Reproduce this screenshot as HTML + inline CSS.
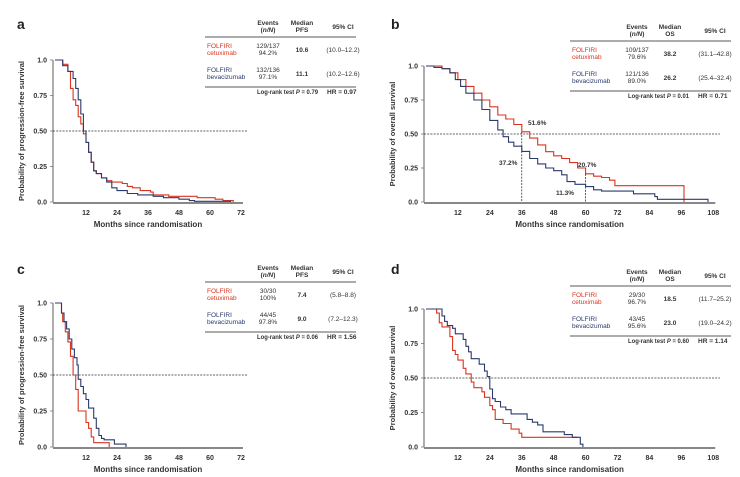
<!DOCTYPE html>
<html><head><meta charset="utf-8"><style>
body{margin:0;background:#fff;}
svg{display:block;font-family:"Liberation Sans",Arial,sans-serif;}
.t{font-size:6.5px;fill:#333;}
.b{font-weight:bold;}
.tk{font-size:7px;font-weight:bold;fill:#333;}
.xl{font-size:8px;font-weight:bold;fill:#333;}
.pl{font-size:14px;font-weight:bold;fill:#222;}
</style></head><body>
<svg id="s" width="740" height="477" viewBox="0 0 740 477" xmlns="http://www.w3.org/2000/svg"></svg>
<script>
const S=document.getElementById('s');let h='';
const R='#d9341f',B='#2b3a6b';
function panel(P){
 const {ox,sx,y0,y1,max,step,yl,letter,ly}=P;
 const X=m=>ox+m*sx, Y=v=>y0-(y1-y0)*-v;
 h+=`<text class="pl" x="${P.lx}" y="${ly}">${letter}</text>`;
 h+=`<line x1="${ox-2}" y1="${y1}" x2="${ox-2}" y2="${y0}" stroke="#777" stroke-width="1.2"/>`;
 h+=`<line x1="${ox-2}" y1="${y0+1}" x2="${X(max)+2}" y2="${y0+1}" stroke="#888" stroke-width="2"/>`;
 h+=`<line x1="${ox-2}" y1="${Y(.5)}" x2="${P.dashEnd}" y2="${Y(.5)}" stroke="#333" stroke-width="0.8" stroke-dasharray="2,1.2"/>`;
 [[1,'1.0'],[.75,'0.75'],[.5,'0.50'],[.25,'0.25'],[0,'0.0']].forEach(([v,t])=>{
  h+=`<text class="tk" x="${ox-8}" y="${Y(v)+2.5}" text-anchor="end">${t}</text>`;
  h+=`<line x1="${ox-5}" y1="${Y(v)}" x2="${ox-2}" y2="${Y(v)}" stroke="#777" stroke-width="0.8"/>`;});
 for(let m=step;m<=max;m+=step){h+=`<text class="tk" x="${X(m)}" y="${y0+13}" text-anchor="middle">${m}</text>`;}
 h+=`<text class="xl" x="${X(max/2)}" y="${y0+25}" text-anchor="middle">Months since randomisation</text>`;
 h+=`<text class="xl" transform="translate(${ox-31},${(y0+y1)/2}) rotate(-90)" text-anchor="middle" style="font-size:7.5px">${yl}</text>`;
 [[P.red,R],[P.blue,B]].forEach(([d,c])=>{
  let p=`M${X(d[0][0])},${Y(d[0][1])}`;
  for(let i=1;i<d.length;i++){p+=`H${X(d[i][0]).toFixed(1)}V${Y(d[i][1]).toFixed(1)}`;}
  h+=`<path d="${p}" fill="none" stroke="${c}" stroke-width="1.1"/>`;});
}
function table(T){
 const {x,y,w,type,rows,lr,hr}=T;
 const cE=x+T.cE,cM=x+T.cM,cC=x+T.cC;
 h+=`<text class="t b" x="${cE}" y="${y}" text-anchor="middle">Events</text><text class="t b" x="${cE}" y="${y+7}" text-anchor="middle">(<tspan font-style="italic">n/N</tspan>)</text>`;
 h+=`<text class="t b" x="${cM}" y="${y}" text-anchor="middle">Median</text><text class="t b" x="${cM}" y="${y+7}" text-anchor="middle">${type}</text>`;
 h+=`<text class="t b" x="${cC}" y="${y+4}" text-anchor="middle">95% CI</text>`;
 h+=`<line x1="${x}" y1="${y+12}" x2="${x+w}" y2="${y+12}" stroke="#222" stroke-width="0.8"/>`;
 rows.forEach((r,i)=>{const yy=y+23+i*24;const c=i==0?R:B;
  h+=`<text class="t" x="${x+2}" y="${yy}" style="fill:${c}">FOLFIRI</text><text class="t" x="${x+2}" y="${yy+7}" style="fill:${c}">${i==0?'cetuximab':'bevacizumab'}</text>`;
  h+=`<text class="t" x="${cE}" y="${yy}" text-anchor="middle">${r[0]}</text><text class="t" x="${cE}" y="${yy+7}" text-anchor="middle">${r[1]}</text>`;
  h+=`<text class="t b" x="${cM}" y="${yy+4}" text-anchor="middle">${r[2]}</text><text class="t" x="${cC}" y="${yy+4}" text-anchor="middle">${r[3]}</text>`;});
 h+=`<line x1="${x}" y1="${y+62}" x2="${x+w}" y2="${y+62}" stroke="#222" stroke-width="0.8"/>`;
 h+=`<text class="t b" x="${x+T.lx}" y="${y+69}" textLength="61" lengthAdjust="spacingAndGlyphs">Log-rank test <tspan font-style="italic">P</tspan> = ${lr}</text><text class="t b" x="${x+T.hx}" y="${y+69}">HR = ${hr}</text>`;
}
panel({ox:55,sx:2.583,y0:202,y1:60,max:72,step:12,letter:'a',lx:17,ly:29,dashEnd:247,yl:'Probability of progression-free survival',
 red:[[0,1],[2,1],[3,.97],[5,.92],[6,.8],[7,.72],[8,.68],[9,.6],[10,.55],[11,.48],[12,.42],[13,.35],[14,.28],[15,.22],[16,.2],[18,.17],[20,.15],[22,.14],[26,.13],[28,.11],[30,.1],[33,.08],[37,.07],[38,.05],[44,.04],[54,.04],[55,.03],[62,.02],[65,.01],[69,0]],
 blue:[[0,1],[3,.96],[5,.92],[7,.87],[8,.8],[9,.72],[10,.62],[11,.5],[12,.42],[13,.35],[14,.28],[15,.22],[16,.2],[18,.17],[20,.14],[22,.1],[24,.08],[28,.06],[32,.05],[38,.04],[42,.03],[48,.02],[52,.01],[54,.005],[68,0]]});
panel({ox:426,sx:2.66,y0:202,y1:66,max:108,step:12,letter:'b',lx:391,ly:29,dashEnd:720,yl:'Probability of overall survival',
 red:[[0,1],[3,1],[6,.98],[9,.95],[12,.9],[15,.85],[18,.8],[21,.75],[24,.7],[27,.64],[30,.61],[33,.57],[36,.516],[39,.47],[42,.42],[45,.37],[48,.34],[51,.32],[54,.29],[57,.25],[60,.207],[63,.19],[66,.18],[69,.16],[71,.12],[97,0]],
 blue:[[0,1],[3,.99],[6,.98],[9,.95],[11,.9],[13,.85],[15,.8],[18,.75],[21,.68],[24,.6],[27,.53],[29,.48],[31,.44],[33,.41],[36,.372],[39,.32],[42,.28],[45,.25],[48,.23],[51,.2],[53,.15],[56,.13],[60,.113],[63,.09],[66,.08],[75,.08],[78,.06],[86,.04],[87,.02],[106,.02],[106,0]]});
panel({ox:55,sx:2.583,y0:447,y1:303,max:72,step:12,letter:'c',lx:17,ly:274,dashEnd:247,yl:'Probability of progression-free survival',
 red:[[0,1],[2,1],[2.5,.93],[3,.87],[4,.8],[5,.73],[6,.63],[7,.5],[8,.4],[9,.25],[11,.25],[12,.17],[13,.13],[14,.07],[15,.03],[21,0]],
 blue:[[0,1],[2.5,.93],[3.5,.87],[4.5,.82],[5.5,.75],[6.5,.68],[7.5,.62],[8.5,.57],[9,.47],[10,.42],[11,.37],[12,.33],[13,.27],[15,.2],[16,.13],[17,.08],[18,.06],[19,.05],[23,.02],[27.5,0]]});
panel({ox:426,sx:2.66,y0:447,y1:309,max:108,step:12,letter:'d',lx:391,ly:274,dashEnd:720,yl:'Probability of overall survival',
 red:[[0,1],[4,.97],[5,.9],[6,.87],[9,.8],[10,.7],[11,.67],[12,.63],[14,.57],[15,.53],[17,.47],[18,.43],[20,.43],[21,.4],[22,.36],[24,.3],[25,.27],[26,.2],[29,.17],[32,.13],[35,.1],[36,.07],[57,.07]],
 blue:[[0,1],[5,1],[6,.95],[7,.91],[8,.88],[10,.86],[11,.82],[14,.78],[15,.73],[16,.69],[17,.64],[20,.6],[22,.55],[23,.51],[24,.42],[25,.35],[26,.33],[28,.29],[30,.27],[32,.24],[38,.2],[40,.18],[42,.16],[44,.11],[52,.09],[55,.07],[58,.02],[59,0]]});
const bx=m=>426+m*2.66, by=v=>202-136*v;
h+=`<line x1="${bx(36)}" y1="${by(.516)}" x2="${bx(36)}" y2="202" stroke="#333" stroke-width="0.8" stroke-dasharray="2,1.2"/>`;
h+=`<line x1="${bx(60)}" y1="${by(.207)}" x2="${bx(60)}" y2="202" stroke="#333" stroke-width="0.8" stroke-dasharray="2,1.2"/>`;
h+=`<text class="t b" x="528" y="125">51.6%</text><text class="t b" x="499" y="165">37.2%</text><text class="t b" x="578" y="167">20.7%</text><text class="t b" x="556" y="195">11.3%</text>`;
table({x:205,y:25,w:151,type:'PFS',cE:63,cM:97,cC:138,lx:52,hx:122,lr:'0.79',hr:'0.97',rows:[['129/137','94.2%','10.6','(10.0–12.2)'],['132/136','97.1%','11.1','(10.2–12.6)']]});
table({x:570,y:29,w:161,type:'OS',cE:67,cM:100,cC:145,lx:58,hx:128,lr:'0.01',hr:'0.71',rows:[['109/137','79.6%','38.2','(31.1–42.8)'],['121/136','89.0%','26.2','(25.4–32.4)']]});
table({x:205,y:270,w:151,type:'PFS',cE:63,cM:97,cC:138,lx:52,hx:122,lr:'0.06',hr:'1.56',rows:[['30/30','100%','7.4','(5.8–8.8)'],['44/45','97.8%','9.0','(7.2–12.3)']]});
table({x:570,y:274,w:161,type:'OS',cE:67,cM:100,cC:145,lx:58,hx:128,lr:'0.60',hr:'1.14',rows:[['29/30','96.7%','18.5','(11.7–25.2)'],['43/45','95.6%','23.0','(19.0–24.2)']]});
S.innerHTML=h;
</script>
</body></html>
